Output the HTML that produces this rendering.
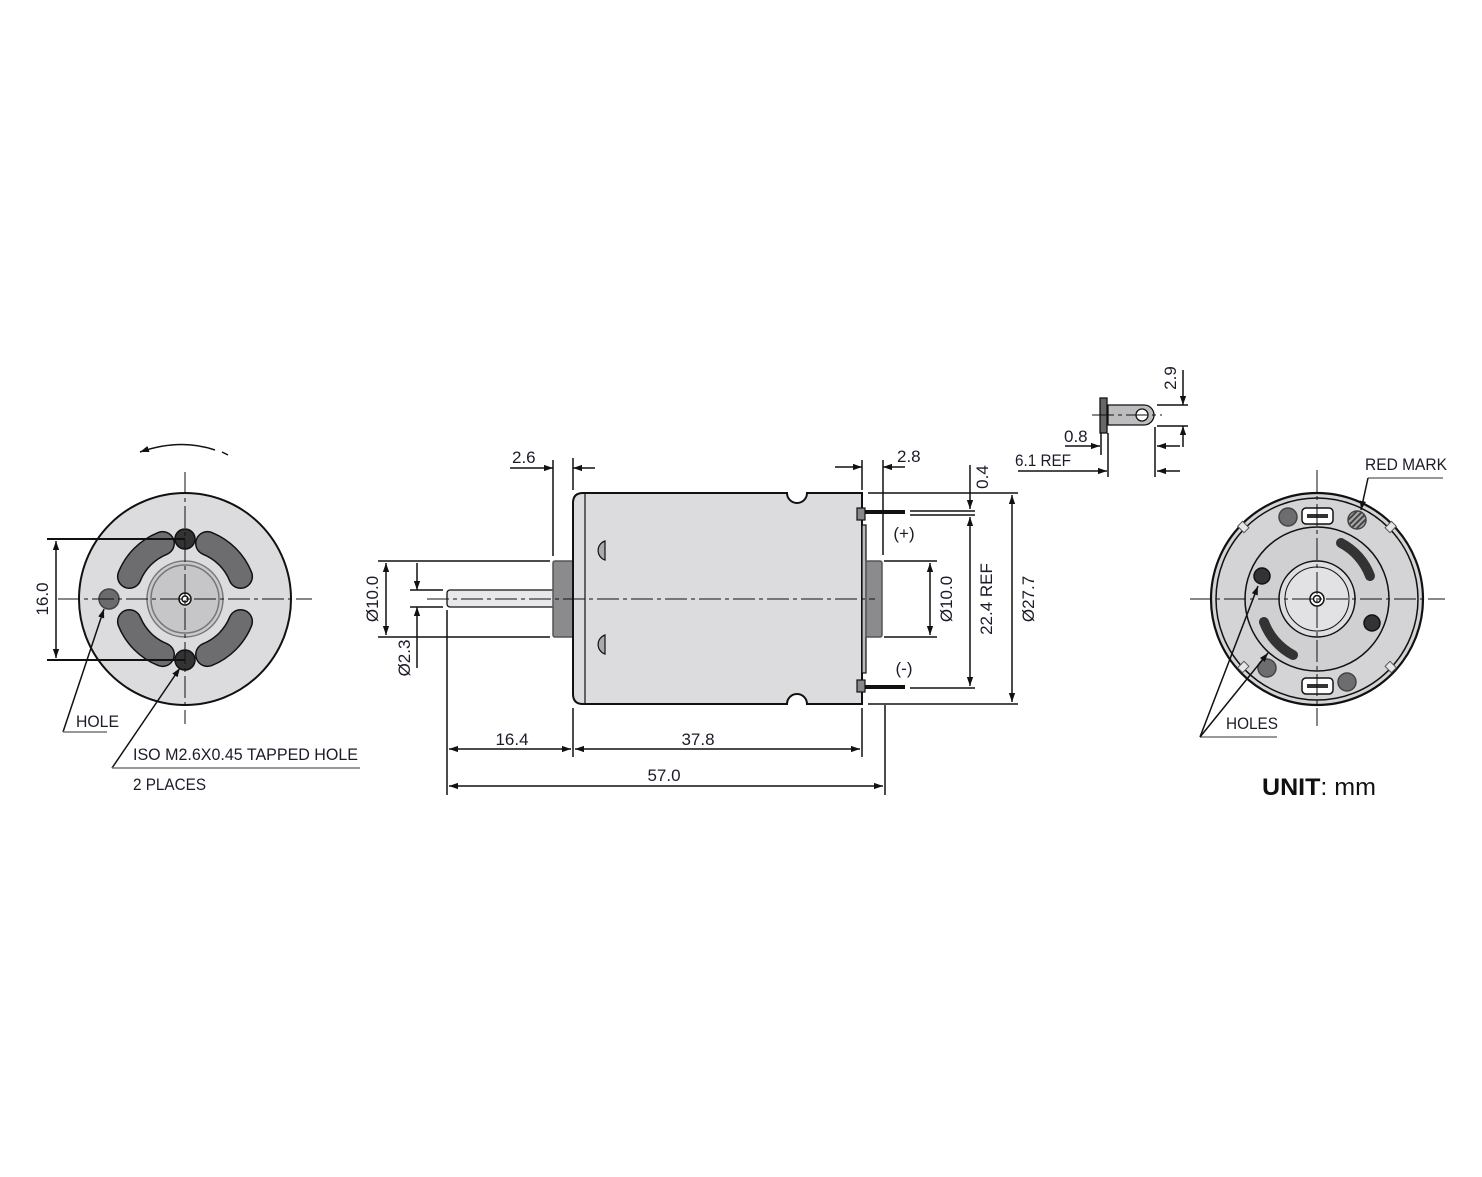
<!DOCTYPE html>
<html><head><meta charset="utf-8"><style>
html,body{margin:0;padding:0;background:#fff}
svg{display:block}
text{font-family:"Liberation Sans",sans-serif;font-size:17px;fill:#1b1b2a}
</style></head><body>
<svg width="1482" height="1177" viewBox="0 0 1482 1177" xmlns="http://www.w3.org/2000/svg">
<defs>
<marker id="a" viewBox="0 0 10 10" refX="10" refY="5" markerWidth="9" markerHeight="9" markerUnits="userSpaceOnUse" orient="auto-start-reverse"><path d="M0,1.5 L10,5 L0,8.5z" fill="#111"/></marker>
<pattern id="h" width="4" height="4" patternUnits="userSpaceOnUse" patternTransform="rotate(45)"><rect width="4" height="4" fill="#aaa"/><rect width="2" height="4" fill="#444"/></pattern>
</defs>
<g stroke="#111" fill="none" stroke-width="1.5">
<!-- LEFT VIEW -->
<circle cx="185" cy="599" r="106" fill="#dcdcde" stroke-width="2"/>
<g stroke-linecap="round">
<path d="M129.4,576.5 A60,60 0 0 1 162.5,543.4" stroke="#111" stroke-width="25"/>
<path d="M207.5,543.4 A60,60 0 0 1 240.6,576.5" stroke="#111" stroke-width="25"/>
<path d="M240.6,621.5 A60,60 0 0 1 207.5,654.6" stroke="#111" stroke-width="25"/>
<path d="M162.5,654.6 A60,60 0 0 1 129.4,621.5" stroke="#111" stroke-width="25"/>
<path d="M129.4,576.5 A60,60 0 0 1 162.5,543.4" stroke="#6d6d70" stroke-width="22"/>
<path d="M207.5,543.4 A60,60 0 0 1 240.6,576.5" stroke="#6d6d70" stroke-width="22"/>
<path d="M240.6,621.5 A60,60 0 0 1 207.5,654.6" stroke="#6d6d70" stroke-width="22"/>
<path d="M162.5,654.6 A60,60 0 0 1 129.4,621.5" stroke="#6d6d70" stroke-width="22"/>
</g>
<circle cx="185" cy="599" r="38" fill="#c9c9cb" stroke="#777" stroke-width="1.5"/>
<circle cx="185" cy="599" r="34" fill="#c6c6c8" stroke="#777"/>
<circle cx="185" cy="599" r="6" fill="#fff"/><circle cx="185" cy="599" r="3"/>
<circle cx="185" cy="539" r="10" fill="#333" stroke="#111"/>
<circle cx="185" cy="660" r="10" fill="#333" stroke="#111"/>
<circle cx="109" cy="599" r="10" fill="#6b6b6e" stroke="#444"/>
<g stroke-width="1" stroke-dasharray="22,4,4,4"><line x1="185" y1="472" x2="185" y2="724"/><line x1="58" y1="599" x2="312" y2="599"/></g>
<line x1="47" y1="539" x2="185" y2="539" stroke-width="2"/>
<line x1="47" y1="660" x2="185" y2="660" stroke-width="2"/>
<line x1="56" y1="541" x2="56" y2="658" marker-start="url(#a)" marker-end="url(#a)"/>
<path d="M140,452 Q180,438 215,450" marker-start="url(#a)"/>
<line x1="222" y1="452" x2="228" y2="455"/>
<line x1="63" y1="732" x2="104" y2="609" marker-end="url(#a)"/>
<line x1="63" y1="732" x2="107" y2="732" stroke="#777"/>
<line x1="112" y1="768" x2="180" y2="668" marker-end="url(#a)"/>
<line x1="112" y1="768" x2="360" y2="768" stroke="#777"/>

<!-- SIDE VIEW -->
<rect x="447" y="590" width="108" height="17" rx="3" fill="#e8e8ea" stroke-width="1.3"/>
<rect x="553" y="561" width="20" height="76" rx="2" fill="#8b8a8d" stroke="#555"/>
<path d="M583,493 L787,493 A10,10 0 0 0 807,493 L862,493 L862,704 L807,704 A10,10 0 0 0 787,704 L583,704 Q573,704 573,694 L573,503 Q573,493 583,493z" fill="#dcdcde" stroke-width="2"/>
<line x1="585" y1="493" x2="585" y2="704" stroke-width="1.2"/>
<path d="M605,541 L605,560 A10,10 0 0 1 605,541z" fill="#aaa" stroke-width="1.2"/>
<path d="M605,635 L605,654 A10,10 0 0 1 605,635z" fill="#aaa" stroke-width="1.2"/>
<rect x="862" y="525" width="4" height="148" fill="#bbb" stroke-width="1.2"/>
<rect x="866" y="561" width="16" height="76" rx="2" fill="#8b8a8d" stroke="#555"/>
<rect x="857" y="508" width="8" height="12" fill="#888" stroke-width="1.2"/>
<rect x="857" y="680" width="8" height="12" fill="#888" stroke-width="1.2"/>
<line x1="865" y1="512" x2="905" y2="512" stroke-width="4"/>
<line x1="865" y1="687" x2="905" y2="687" stroke-width="4"/>
<line x1="427" y1="599" x2="875" y2="599" stroke-width="1" stroke-dasharray="22,4,4,4"/>
<!-- dims -->
<line x1="553" y1="460" x2="553" y2="556"/><line x1="573" y1="458" x2="573" y2="490"/>
<line x1="510" y1="468" x2="553" y2="468" marker-end="url(#a)"/>
<line x1="595" y1="468" x2="573" y2="468" marker-end="url(#a)"/>
<line x1="862" y1="460" x2="862" y2="490"/><line x1="883" y1="460" x2="883" y2="555"/>
<line x1="835" y1="467" x2="862" y2="467" marker-end="url(#a)"/>
<line x1="905" y1="467" x2="883" y2="467" marker-end="url(#a)"/>
<line x1="378" y1="561" x2="550" y2="561"/><line x1="378" y1="637" x2="550" y2="637"/>
<line x1="386" y1="563" x2="386" y2="635" marker-start="url(#a)" marker-end="url(#a)"/>
<line x1="410" y1="590" x2="443" y2="590"/><line x1="410" y1="607" x2="443" y2="607"/>
<line x1="417" y1="563" x2="417" y2="590" marker-end="url(#a)"/>
<line x1="417" y1="668" x2="417" y2="607" marker-end="url(#a)"/>
<line x1="447" y1="610" x2="447" y2="795"/>
<line x1="573" y1="708" x2="573" y2="757"/><line x1="862" y1="708" x2="862" y2="757"/>
<line x1="885" y1="705" x2="885" y2="795"/>
<line x1="449" y1="749" x2="571" y2="749" marker-start="url(#a)" marker-end="url(#a)"/>
<line x1="575" y1="749" x2="860" y2="749" marker-start="url(#a)" marker-end="url(#a)"/>
<line x1="449" y1="786" x2="883" y2="786" marker-start="url(#a)" marker-end="url(#a)"/>
<line x1="868" y1="493" x2="1018" y2="493"/><line x1="868" y1="704" x2="1018" y2="704"/>
<line x1="1012" y1="495" x2="1012" y2="702" marker-start="url(#a)" marker-end="url(#a)"/>
<line x1="910" y1="511" x2="975" y2="511"/><line x1="910" y1="515" x2="975" y2="515"/>
<line x1="910" y1="688" x2="975" y2="688"/>
<line x1="970" y1="517" x2="970" y2="686" marker-start="url(#a)" marker-end="url(#a)"/>
<line x1="970" y1="465" x2="970" y2="509" marker-end="url(#a)"/>
<line x1="884" y1="561" x2="937" y2="561"/><line x1="884" y1="637" x2="937" y2="637"/>
<line x1="930" y1="563" x2="930" y2="635" marker-start="url(#a)" marker-end="url(#a)"/>

<!-- TERMINAL DETAIL -->
<path d="M1108,405 L1144,405 A10,10 0 0 1 1144,425 L1108,425z" fill="#bdbdc0" stroke-width="1.3"/>
<circle cx="1142" cy="415" r="6" fill="#fff" stroke-width="1.3"/>
<rect x="1100" y="398" width="7" height="35" fill="#666" stroke-width="1.3"/>
<line x1="1092" y1="415" x2="1162" y2="415" stroke-width="1" stroke-dasharray="22,4,4,4"/>
<line x1="1157" y1="405" x2="1188" y2="405"/><line x1="1157" y1="426" x2="1188" y2="426"/>
<line x1="1183" y1="370" x2="1183" y2="405" marker-end="url(#a)"/>
<line x1="1183" y1="447" x2="1183" y2="426" marker-end="url(#a)"/>
<line x1="1101" y1="433" x2="1101" y2="455"/>
<line x1="1108" y1="433" x2="1108" y2="477"/>
<line x1="1155" y1="427" x2="1155" y2="477"/>
<line x1="1065" y1="446" x2="1100" y2="446" marker-end="url(#a)"/>
<line x1="1018" y1="471" x2="1107" y2="471" marker-end="url(#a)"/>
<line x1="1180" y1="446" x2="1157" y2="446" marker-end="url(#a)"/>
<line x1="1180" y1="471" x2="1157" y2="471" marker-end="url(#a)"/>

<!-- RIGHT VIEW -->
<circle cx="1317" cy="599" r="106" fill="#d4d4d6" stroke-width="2.2"/>
<circle cx="1317" cy="599" r="101" stroke-width="1.5"/>
<circle cx="1317" cy="599" r="72" fill="#d0d0d2" stroke-width="1.5"/>
<g fill="#e6e6e8" stroke="#555" stroke-width="1">
<rect x="1240" y="522" width="7" height="9" transform="rotate(-45 1244 527)"/>
<rect x="1387" y="522" width="7" height="9" transform="rotate(45 1390 527)"/>
<rect x="1240" y="663" width="7" height="9" transform="rotate(45 1244 667)"/>
<rect x="1387" y="663" width="7" height="9" transform="rotate(-45 1390 667)"/>
</g>
<circle cx="1317" cy="599" r="38" fill="#dedee0" stroke-width="1.5"/>
<circle cx="1317" cy="599" r="32" fill="#e2e2e4" stroke-width="1"/>
<circle cx="1317" cy="599" r="7" fill="#fff"/><circle cx="1317" cy="599" r="3.5"/>
<path d="M1341,543 A61,61 0 0 1 1370,576" stroke="#333" stroke-width="10" stroke-linecap="round"/>
<path d="M1293,655 A61,61 0 0 1 1264,622" stroke="#333" stroke-width="10" stroke-linecap="round"/>
<circle cx="1262" cy="576" r="8" fill="#333"/>
<circle cx="1372" cy="623" r="8" fill="#333"/>
<circle cx="1288" cy="517" r="9" fill="#6d6d70" stroke="#444"/>
<circle cx="1347" cy="682" r="9" fill="#6d6d70" stroke="#444"/>
<circle cx="1267" cy="668" r="9" fill="#6d6d70" stroke="#444"/>
<circle cx="1357" cy="520" r="9" fill="url(#h)" stroke="#444"/>
<rect x="1302" y="508" width="31" height="16" rx="4" fill="#fff"/>
<rect x="1307" y="514" width="21" height="4" fill="#333" stroke="none"/>
<rect x="1302" y="678" width="31" height="16" rx="4" fill="#fff"/>
<rect x="1307" y="684" width="21" height="4" fill="#333" stroke="none"/>
<g stroke-width="1" stroke-dasharray="22,4,4,4"><line x1="1317" y1="470" x2="1317" y2="726"/><line x1="1190" y1="599" x2="1445" y2="599"/></g>
<line x1="1368" y1="478" x2="1443" y2="478" stroke="#777"/>
<line x1="1368" y1="478" x2="1361" y2="510" marker-end="url(#a)"/>
<line x1="1200" y1="737" x2="1277" y2="737" stroke="#777"/>
<line x1="1200" y1="737" x2="1258" y2="586" marker-end="url(#a)"/>
<line x1="1200" y1="737" x2="1268" y2="653" marker-end="url(#a)"/>
</g>
<g>
<text x="512" y="463">2.6</text>
<text x="897" y="462">2.8</text>
<text transform="translate(378,599) rotate(-90)" text-anchor="middle">Ø10.0</text>
<text transform="translate(410,658) rotate(-90)" text-anchor="middle">Ø2.3</text>
<text x="512" y="745" text-anchor="middle">16.4</text>
<text x="698" y="745" text-anchor="middle">37.8</text>
<text x="664" y="781" text-anchor="middle">57.0</text>
<text x="904" y="539" text-anchor="middle">(+)</text>
<text x="904" y="674" text-anchor="middle">(-)</text>
<text transform="translate(988,477) rotate(-90)" text-anchor="middle">0.4</text>
<text transform="translate(952,599) rotate(-90)" text-anchor="middle">Ø10.0</text>
<text transform="translate(992,599) rotate(-90)" text-anchor="middle">22.4 REF</text>
<text transform="translate(1034,599) rotate(-90)" text-anchor="middle">Ø27.7</text>
<text x="1064" y="442">0.8</text>
<text x="1015" y="466" textLength="56" lengthAdjust="spacingAndGlyphs">6.1 REF</text>
<text transform="translate(1176,378) rotate(-90)" text-anchor="middle">2.9</text>
<text transform="translate(48,599) rotate(-90)" text-anchor="middle">16.0</text>
<text x="76" y="727" textLength="43" lengthAdjust="spacingAndGlyphs">HOLE</text>
<text x="133" y="760" textLength="225" lengthAdjust="spacingAndGlyphs">ISO M2.6X0.45 TAPPED HOLE</text>
<text x="133" y="790" textLength="73" lengthAdjust="spacingAndGlyphs">2 PLACES</text>
<text x="1365" y="470" textLength="82" lengthAdjust="spacingAndGlyphs">RED MARK</text>
<text x="1226" y="729" textLength="52" lengthAdjust="spacingAndGlyphs">HOLES</text>
<text x="1262" y="795" style="font-size:24px;fill:#111" textLength="114" lengthAdjust="spacingAndGlyphs"><tspan font-weight="bold">UNIT</tspan>: mm</text>
</g>
</svg>
</body></html>
